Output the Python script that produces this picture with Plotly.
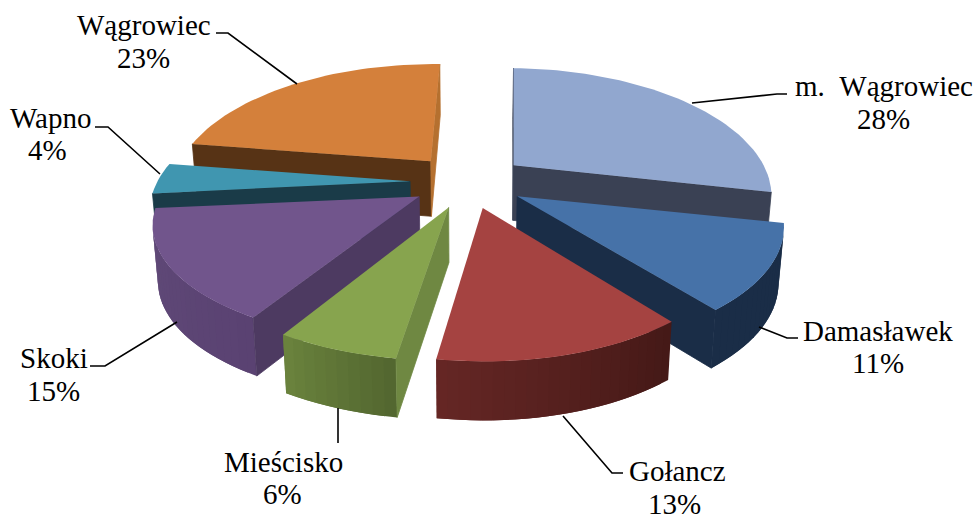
import math
import plotly.graph_objects as go

# Data, clockwise from 12 o'clock
names = ["m.\u00a0\u00a0Wągrowiec", "Damasławek", "Gołancz", "Mieścisko", "Skoki", "Wapno", "Wągrowiec"]
shares = [28, 11, 13, 6, 15, 4, 23]

# Colours per slice: top, front cut, back cut, wall start, wall end
top_colors = ["#91A7CF", "#4672A8", "#A54341", "#87A44E", "#71558C", "#4096B0", "#D4803B"]
cut_a_colors = ["#3A4154", "#1A2D47", "#451917", "#6F8842", "#4D3A61", "#1A3B48", "#573315"]
cut_b_colors = ["#3A4154", "#1A2D47", "#662725", "#536730", "#5F4A78", "#1A3B48", "#B5702F"]
wall_start = ["#3A4154", "#1A2D47", "#451917", "#536730", "#5A4272", "#1A3B48", "#573315"]
wall_end = ["#3A4154", "#1A2D47", "#662725", "#6C853E", "#614B79", "#1A3B48", "#573315"]
draw_order = [6, 0, 5, 4, 3, 1, 2]

# The slices are not quite the same size in the original's perspective
stretch_x = [1.0, 1.035, 1.0, 1.05, 1.035, 1.01, 1.0]
stretch_y = [1.0, 1.0, 1.0, 1.0, 0.95, 1.0, 1.0]

# Where the text sits: name centre, percent centre, leader path
label_pos = [
    ((884, 86), (883, 119), [(692, 103), (777, 94), (787, 94)]),
    ((878, 331), (878, 363), [(759, 327), (787, 338), (798, 338)]),
    ((677, 471), (674, 504), [(563, 416), (612, 473), (623, 473)]),
    ((283, 462), (282, 494), [(338, 408), (338, 443)]),
    ((54, 358), (53, 391), [(177, 322), (105, 366), (90, 366)]),
    ((50, 118), (47, 150), [(160, 174), (108, 127), (95, 127)]),
    ((144, 25), (143, 58), [(297, 84), (228, 33), (216, 33)]),
]

# Projection of the tilted pie onto the page
CX, CY = 468, 182
PULL_X, PULL_Y = 58, 27
RX, RY, PERSP = 250, 119, 0.224
VP_X, CONV = 464, 0.11
SHRINK = 0.983
START = math.radians(1.5)


def hex_mix(c1, c2, t):
    a = [int(c1[i:i + 2], 16) for i in (1, 3, 5)]
    b = [int(c2[i:i + 2], 16) for i in (1, 3, 5)]
    return "#%02x%02x%02x" % tuple(round(p + (q - p) * t) for p, q in zip(a, b))


def drop(pt, cos_t):
    return (CX + (pt[0] - CX) * SHRINK, pt[1] + 55 - 4 * cos_t)


def face(pts, color, edge=0):
    xs = [p[0] for p in pts] + [pts[0][0]]
    ys = [p[1] for p in pts] + [pts[0][1]]
    return go.Scatter(x=xs, y=ys, mode="lines", fill="toself", fillcolor=color,
                      line=dict(color=color, width=edge), hoverinfo="skip", showlegend=False)


def facing(pts):
    n = len(pts)
    return sum(pts[i][0] * pts[(i + 1) % n][1] - pts[(i + 1) % n][0] * pts[i][1] for i in range(n)) < 0


def slice_traces(i):
    total = sum(shares)
    t0 = START + sum(shares[:i]) / total * 2 * math.pi
    t1 = START + sum(shares[:i + 1]) / total * 2 * math.pi
    mid = (t0 + t1) / 2
    ax = CX + PULL_X * math.sin(mid)
    ay = CY - PULL_Y * math.cos(mid)
    steps = max(3, int((t1 - t0) / math.radians(2)))
    rim = []
    for k in range(steps + 1):
        t = t0 + (t1 - t0) * k / steps
        w = 1 + PERSP * math.cos(t)
        rim.append((t, ax + stretch_x[i] * RX * math.sin(t) / w + CONV * (VP_X - ax) * math.cos(t),
                    ay - stretch_y[i] * RY * math.cos(t) / w))
    apex = (ax, ay)
    apex_low = drop(apex, 0)
    out = []
    # outer wall as strips, each overlapping the next so no seams show
    for k in range(steps):
        p, q = rim[k], rim[k + 1]
        quad = [p[1:], q[1:], drop(q[1:], math.cos(q[0])), drop(p[1:], math.cos(p[0]))]
        if facing(quad):
            r = rim[min(k + 2, steps)]
            wide = [p[1:], q[1:], r[1:], drop(r[1:], math.cos(r[0])),
                    drop(q[1:], math.cos(q[0])), drop(p[1:], math.cos(p[0]))]
            out.append(face(wide, hex_mix(wall_start[i], wall_end[i], k / steps)))
    # the two radial cuts
    first, last = rim[0], rim[-1]
    quad_a = [apex, first[1:], drop(first[1:], math.cos(first[0])), apex_low]
    quad_b = [last[1:], apex, apex_low, drop(last[1:], math.cos(last[0]))]
    if facing(quad_a):
        out.append(face(quad_a, cut_a_colors[i], 0.8))
    if facing(quad_b):
        out.append(face(quad_b, cut_b_colors[i], 0.8))
    out.append(face([apex] + [r[1:] for r in rim], top_colors[i]))
    return out


fig = go.Figure()
for i in draw_order:
    fig.add_traces(slice_traces(i))

annotations = []
for name, share, (name_at, pct_at, path) in zip(names, shares, label_pos):
    fig.add_trace(go.Scatter(x=[p[0] for p in path], y=[p[1] for p in path], mode="lines",
                             line=dict(color="#000000", width=1.6), hoverinfo="skip", showlegend=False))
    for text, at in ((name, name_at), (f"{share}%", pct_at)):
        annotations.append(dict(x=at[0], y=at[1], text=text, xref="x", yref="y", showarrow=False,
                                xanchor="center", yanchor="middle",
                                font=dict(family="Liberation Serif", size=29, color="#000000")))

fig.update_layout(
    width=979, height=517, margin=dict(l=0, r=0, t=0, b=0),
    paper_bgcolor="#FFFFFF", plot_bgcolor="#FFFFFF",
    xaxis=dict(range=[0, 979], visible=False, fixedrange=True),
    yaxis=dict(range=[517, 0], visible=False, fixedrange=True),
    annotations=annotations,
)

# the page's default body margin would push the chart off the window
fig.write_html("out.html", config={"displayModeBar": False},
               post_script="document.body.style.margin='0';")
